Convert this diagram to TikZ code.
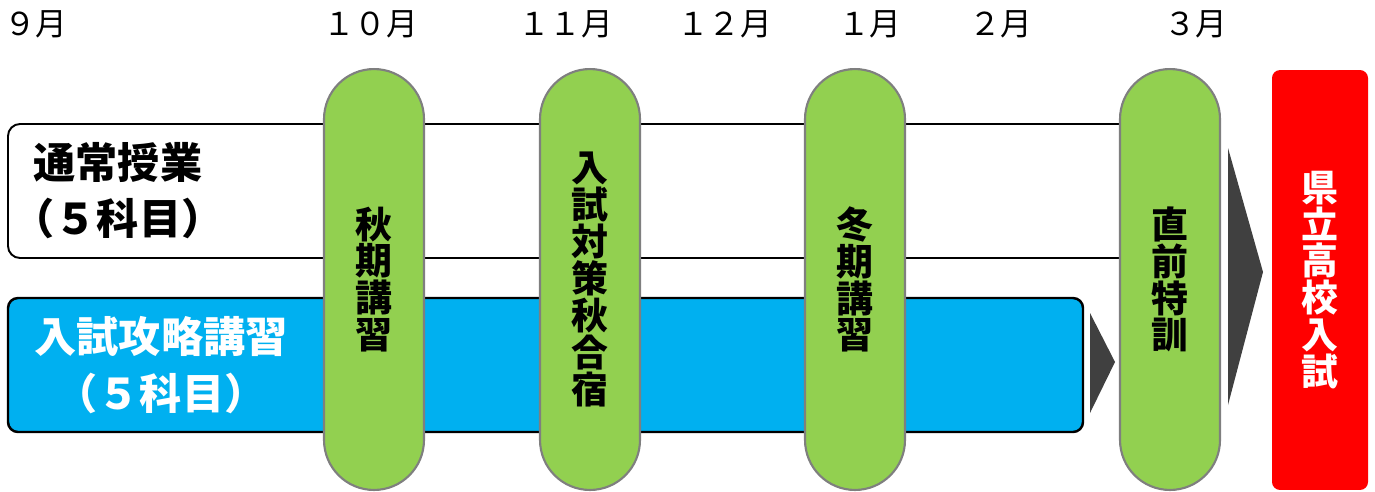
\documentclass[tikz,border=0pt]{standalone}
\usepackage{fontspec}
\setmainfont{Noto Sans CJK JP}
\usetikzlibrary{positioning}
\definecolor{pillgreen}{HTML}{92D050}
\definecolor{pillgray}{HTML}{7F7F7F}
\definecolor{skyblue}{HTML}{00B0F0}
\definecolor{arrowgray}{HTML}{404040}

\begin{document}
\begin{tikzpicture}[x=0.02cm,y=-0.02cm]
	\tikzstyle{month} = [anchor=west,inner sep=0,font=\fontsize{18}{20}\selectfont]
	\tikzstyle{course} = [align=center,inner sep=0,font=\bfseries\fontsize{24}{32}\selectfont]
	\tikzstyle{pill} = [draw=pillgray,line width=1.2pt,fill=pillgreen,rounded corners=1cm,minimum width=2cm,minimum height=8.42cm,align=center,inner sep=0,font=\bfseries\fontsize{21}{21}\selectfont]
	\tikzstyle{chev} = [fill=arrowgray]
	\useasboundingbox (0,0) rectangle (1375,491);
	% months
	\node[month] (m9) at (4,24) {９月}; \node[month] (m10) at (323,24) {１０月};
	\node[month] (m11) at (518,24) {１１月}; \node[month] (m12) at (677,24) {１２月};
	\node[month] (m1) at (838,24) {１月}; \node[month] (m2) at (969,24) {２月};
	\node[month] (m3) at (1164,24) {３月};
	% courses
	\draw[line width=1.1pt,fill=white,rounded corners=0.24cm] (8,124) rectangle (1170,258);
	\draw[line width=1.4pt,fill=skyblue,rounded corners=0.2cm] (8,298) rectangle (1083,432);
	\node[course] (regular) at (118,191) {通常授業\\（５科目）};
	\node[course,text=white] (intensive) at (161,365) {入試攻略講習\\（５科目）};
	\fill[chev] (1090,313) -- (1115,362) -- (1090,413) -- cycle;
	% special courses
	\node[pill] (autumn) at (374,279.5) {秋\\期\\講\\習};
	\node[pill] (camp) at (590,279.5) {入\\試\\対\\策\\秋\\合\\宿};
	\node[pill] (winter) at (855,279.5) {冬\\期\\講\\習};
	\node[pill] (final) at (1170,279.5) {直\\前\\特\\訓};
	\fill[chev] (1228,148) -- (1263,272) -- (1228,405) -- cycle;
	\node[fill=red,rounded corners=0.16cm,minimum width=1.92cm,minimum height=8.4cm,align=center,inner sep=0,text=white,font=\bfseries\fontsize{21}{21}\selectfont] (exam) at (1320,280) {県\\立\\高\\校\\入\\試};
\end{tikzpicture}
\end{document}
